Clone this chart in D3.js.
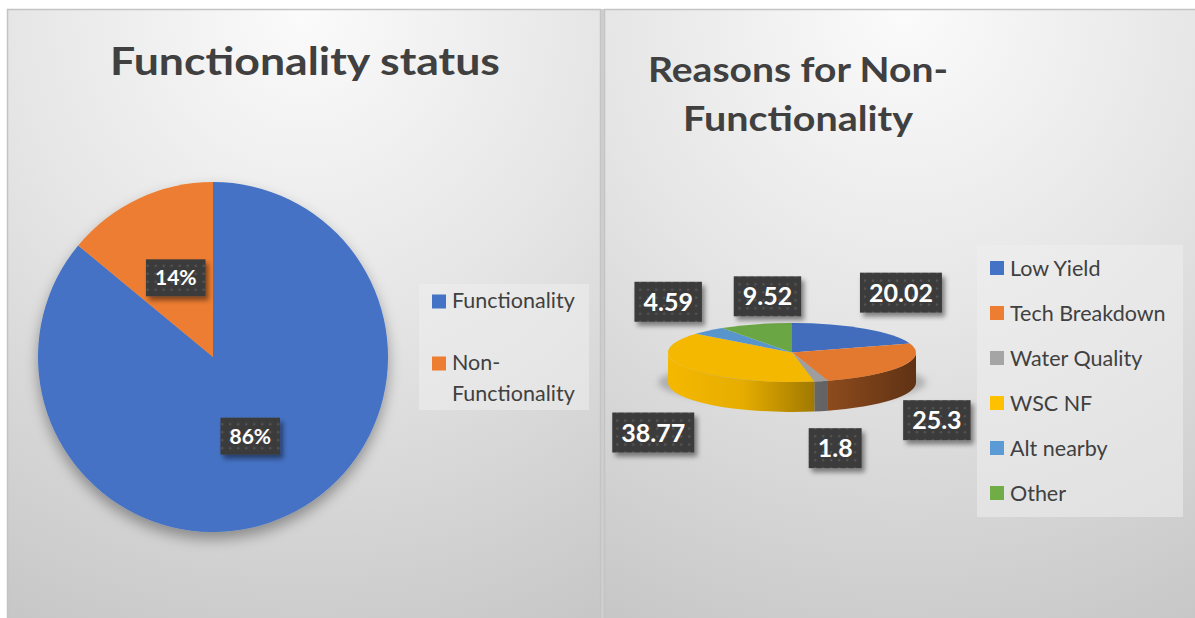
<!DOCTYPE html>
<html>
<head>
<meta charset="utf-8">
<script src="https://cdn.jsdelivr.net/npm/d3@7/dist/d3.min.js"></script>
<style>
  html, body { margin: 0; padding: 0; background: #ffffff; }
  svg { display: block; }
  text { font-family: Lato, "Open Sans", sans-serif; }
</style>
</head>
<body>
<svg id="chart" width="1195" height="618"></svg>
<script>
// ---- data ----
const statusCategories = ["Functionality", "Non-Functionality"];
const statusValues = [86, 14];
const statusColors = ["#4472C4", "#ED7D31"];

const reasonCategories = ["Low Yield", "Tech Breakdown", "Water Quality", "WSC NF", "Alt nearby", "Other"];
const reasonValues = [20.02, 25.3, 1.8, 38.77, 4.59, 9.52];
const reasonColors = ["#4472C4", "#ED7D31", "#A5A5A5", "#FFC000", "#5B9BD5", "#70AD47"];

// ---- layout ----
const svg = d3.select("#chart");
const defs = svg.append("defs");

// panel background gradient
const bg = defs.append("radialGradient").attr("id", "panelBg")
  .attr("cx", "50%").attr("cy", "0%").attr("r", "115%").attr("fx", "50%").attr("fy", "0%");
bg.append("stop").attr("offset", "0").attr("stop-color", "#fbfbfb");
bg.append("stop").attr("offset", "0.45").attr("stop-color", "#e5e5e5");
bg.append("stop").attr("offset", "1").attr("stop-color", "#c4c4c4");

// dotted fill for the data label boxes
const dots = defs.append("pattern").attr("id", "dots")
  .attr("patternUnits", "userSpaceOnUse").attr("width", 8).attr("height", 8);
dots.append("rect").attr("width", 8).attr("height", 8).attr("fill", "#3b3b3b");
dots.append("circle").attr("cx", 4).attr("cy", 4).attr("r", 1.3).attr("fill", "#545454");

const boxShadow = defs.append("filter").attr("id", "boxShadow")
  .attr("x", "-30%").attr("y", "-30%").attr("width", "170%").attr("height", "170%");
boxShadow.append("feDropShadow").attr("dx", 3).attr("dy", 4).attr("stdDeviation", 2.5)
  .attr("flood-color", "#000").attr("flood-opacity", 0.45);

const pieShadow = defs.append("filter").attr("id", "pieShadow")
  .attr("x", "-20%").attr("y", "-20%").attr("width", "140%").attr("height", "150%");
pieShadow.append("feDropShadow").attr("dx", 0).attr("dy", 7).attr("stdDeviation", 7)
  .attr("flood-color", "#000").attr("flood-opacity", 0.35);

const floorBlur = defs.append("filter").attr("id", "floorBlur")
  .attr("x", "-20%").attr("y", "-50%").attr("width", "140%").attr("height", "200%");
floorBlur.append("feGaussianBlur").attr("stdDeviation", 3);

// strip between the two panels
svg.append("rect").attr("x", 600).attr("y", 9).attr("width", 5).attr("height", 620).attr("fill", "#cfcfcf");

// panels
const panels = [
  { x: 7.5, y: 9.5, w: 593, h: 620 },
  { x: 604.5, y: 9.5, w: 600, h: 620 }
];
svg.selectAll("rect.panel").data(panels).join("rect").attr("class", "panel")
  .attr("x", d => d.x).attr("y", d => d.y).attr("width", d => d.w).attr("height", d => d.h)
  .attr("fill", "url(#panelBg)").attr("stroke", "#c4c4c4").attr("stroke-width", 1.5);

// helper: dark label box with white text, centred at (x, y)
function labelBox(g, x, y, text, size, padX, h) {
  const lg = g.append("g").attr("transform", `translate(${x},${y})`);
  const rect = lg.append("rect").attr("fill", "url(#dots)").attr("filter", "url(#boxShadow)");
  const t = lg.append("text").attr("text-anchor", "middle").attr("dy", "0.36em")
    .attr("fill", "#ffffff").attr("font-weight", 700).attr("font-size", size).text(text);
  const w = t.node().getComputedTextLength() + padX * 2;
  rect.attr("x", -w / 2).attr("y", -h / 2).attr("width", w).attr("height", h);
}

// ================= Left chart: Functionality status =================
const left = svg.append("g");
left.append("text").attr("x", 305).attr("y", 75).attr("text-anchor", "middle")
  .attr("font-size", 39).attr("font-weight", 700).attr("fill", "#404040")
  .attr("textLength", 390).attr("lengthAdjust", "spacingAndGlyphs")
  .text("Functionality status");

const pieL = d3.pie().sort(null).value(d => d)(statusValues);
const rL = 175;
const arcL = d3.arc().innerRadius(0).outerRadius(rL);
const gL = left.append("g").attr("transform", "translate(213,357)");
gL.append("g").attr("filter", "url(#pieShadow)")
  .selectAll("path").data(pieL).join("path")
  .attr("d", arcL).attr("fill", (d, i) => statusColors[i]);
const total = d3.sum(statusValues);
pieL.forEach(d => {
  const [cx, cy] = arcL.centroid(d);
  labelBox(gL, cx, cy, Math.round(d.value / total * 100) + "%", 21, 9, 37);
});

// legend (left)
const legL = left.append("g");
legL.append("rect").attr("x", 419).attr("y", 284).attr("width", 170).attr("height", 126)
  .attr("fill", "#efefef").attr("fill-opacity", 0.55);
const legLItems = [
  { lines: ["Functionality"], y: 308 },
  { lines: ["Non-", "Functionality"], y: 370 }
];
legLItems.forEach((it, i) => {
  legL.append("rect").attr("x", 432).attr("y", it.y - 13.5).attr("width", 14).attr("height", 14)
    .attr("fill", statusColors[i]);
  const t = legL.append("text").attr("x", 452).attr("y", it.y)
    .attr("font-size", 21.5).attr("fill", "#404040");
  t.selectAll("tspan").data(it.lines)
    .join("tspan").attr("x", 452).attr("dy", (d, k) => k === 0 ? 0 : 31).text(d => d);
});

// ================= Right chart: Reasons for Non-Functionality =================
const right = svg.append("g");
const titleR = right.append("text").attr("text-anchor", "middle")
  .attr("font-size", 35).attr("font-weight", 700).attr("fill", "#404040");
titleR.append("tspan").attr("x", 798).attr("y", 82)
  .attr("textLength", 300).attr("lengthAdjust", "spacingAndGlyphs").text("Reasons for Non-");
titleR.append("tspan").attr("x", 798).attr("y", 131)
  .attr("textLength", 230).attr("lengthAdjust", "spacingAndGlyphs").text("Functionality");

// 3-D pie geometry
const P = { cx: 792, cy: 352.5, rx: 124, ry: 29.5, depth: 30 };
const pt = (a, dz = 0) => [P.cx + P.rx * Math.sin(a), P.cy - P.ry * Math.cos(a) + dz];
const pieR = d3.pie().sort(null).value(d => d)(reasonValues);

// floor shadow
right.append("ellipse").attr("cx", P.cx).attr("cy", P.cy + 30).attr("rx", P.rx + 10).attr("ry", P.ry - 8)
  .attr("fill", "#8a8a8a").attr("fill-opacity", 0.55).attr("filter", "url(#floorBlur)");

// side shading gradients
reasonColors.forEach((c, i) => {
  const g = defs.append("linearGradient").attr("id", "side" + i)
    .attr("gradientUnits", "userSpaceOnUse")
    .attr("x1", P.cx - P.rx).attr("x2", P.cx + P.rx).attr("y1", 0).attr("y2", 0);
  const base = d3.rgb(c);
  const shade = k => d3.rgb(base.r * k, base.g * k, base.b * k).formatHex();
  [[0, 0.96], [0.3, 0.9], [0.6, 0.62], [1, 0.4]].forEach(([o, k]) =>
    g.append("stop").attr("offset", o).attr("stop-color", shade(k)));
});

// visible outer walls (front half: angles between PI/2 and 3PI/2)
const sideG = right.append("g");
pieR.forEach((d, i) => {
  const s = Math.max(d.startAngle, Math.PI / 2);
  const e = Math.min(d.endAngle, 3 * Math.PI / 2);
  if (e <= s) return;
  const large = (e - s) > Math.PI ? 1 : 0;
  const [x0, y0] = pt(s), [x1, y1] = pt(e);
  const [x2, y2] = pt(e, P.depth), [x3, y3] = pt(s, P.depth);
  const path = `M${x0},${y0} A${P.rx},${P.ry} 0 ${large} 1 ${x1},${y1} L${x2},${y2} ` +
    `A${P.rx},${P.ry} 0 ${large} 0 ${x3},${y3} Z`;
  sideG.append("path").attr("d", path).attr("fill", `url(#side${i})`);
});

// top faces
right.append("g").selectAll("path").data(pieR).join("path")
  .attr("d", d => {
    const [x0, y0] = pt(d.startAngle), [x1, y1] = pt(d.endAngle);
    const large = (d.endAngle - d.startAngle) > Math.PI ? 1 : 0;
    return `M${P.cx},${P.cy} L${x0},${y0} A${P.rx},${P.ry} 0 ${large} 1 ${x1},${y1} Z`;
  })
  .attr("fill", (d, i) => d3.rgb(reasonColors[i]).darker(0.12));

// data labels, placed outside the rim at each slice's mid angle
const labelNudge = [[36, -36], [35, 24], [14, 37], [-32, 35], [-40, -29], [12, -28]];
pieR.forEach((d, i) => {
  const m = (d.startAngle + d.endAngle) / 2;
  const [ax, ay] = pt(m, Math.cos(m) < 0 ? P.depth : 0);
  labelBox(right, ax + labelNudge[i][0], ay + labelNudge[i][1], String(d.value), 25, 9, 40);
});

// legend (right)
const legR = right.append("g");
legR.append("rect").attr("x", 977).attr("y", 245).attr("width", 206).attr("height", 272)
  .attr("fill", "#efefef").attr("fill-opacity", 0.55);
const legY = d3.scalePoint().domain(reasonCategories).range([268, 493]);
reasonCategories.forEach((c, i) => {
  legR.append("rect").attr("x", 990).attr("y", legY(c) - 7).attr("width", 14).attr("height", 14)
    .attr("fill", reasonColors[i]);
  legR.append("text").attr("x", 1010).attr("y", legY(c)).attr("dy", "0.36em")
    .attr("font-size", 21.5).attr("fill", "#404040").text(c);
});
</script>
</body>
</html>
